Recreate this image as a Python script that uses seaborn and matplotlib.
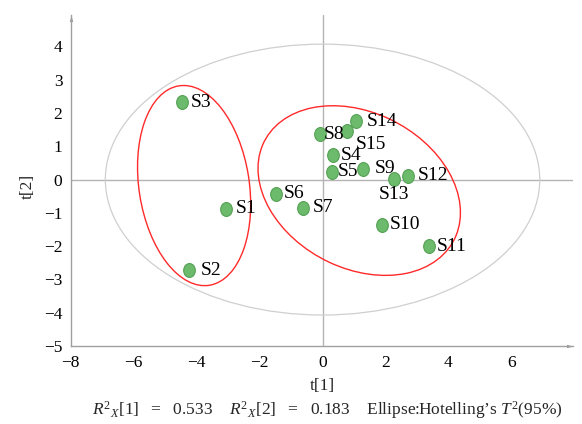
import numpy as np
import pandas as pd
import matplotlib
matplotlib.use("Agg")
import matplotlib.pyplot as plt
import seaborn as sns
from matplotlib.patches import Ellipse
from matplotlib.path import Path
from matplotlib.ticker import MultipleLocator

# PCA score values (t[1], t[2]) per sample
samples = ["S1", "S2", "S3", "S4", "S5", "S6", "S7", "S8",
           "S9", "S10", "S11", "S12", "S13", "S14", "S15"]
t1 = [-3.07, -4.25, -4.48, 0.32, 0.29, -1.48, -0.63, -0.08,
      1.29, 1.90, 3.37, 2.73, 2.27, 1.06, 0.77]
t2 = [-0.87, -2.72, 2.33, 0.73, 0.23, -0.42, -0.84, 1.36,
      0.33, -1.36, -2.00, 0.11, 0.01, 1.75, 1.45]

# explained variance of the two components
r2x = [0.533, 0.183]

df = pd.DataFrame({"sample": samples, "t1": t1, "t2": t2})

sns.set_style("white")
plt.rcParams["font.family"] = ["Liberation Serif", "DejaVu Serif"]
plt.rcParams["mathtext.fontset"] = "custom"
plt.rcParams["mathtext.rm"] = "Liberation Serif"
plt.rcParams["mathtext.it"] = "Liberation Serif:italic"
plt.rcParams["axes.unicode_minus"] = True

fig = plt.figure(figsize=(5.82, 4.24), dpi=100)
ax = fig.add_axes([0.1215, 0.184, 0.8627, 0.781])

# Hotelling T2 ellipse and the two group ellipses
ax.add_patch(Ellipse((0, 0), 13.8, 8.14, fill=False,
                     edgecolor="#cfcfcf", lw=0.9, zorder=1))
ax.add_patch(Ellipse((-4.08, -0.18), 3.5, 6.07, angle=9.5, fill=False,
                     edgecolor="#ff2a2a", lw=1.0, zorder=1))
ax.add_patch(Ellipse((1.165, -0.33), 6.72, 4.71, angle=-24.0, fill=False,
                     edgecolor="#ff2a2a", lw=1.0, zorder=1))

# reference cross at the origin
ax.axhline(0, color="#b4b4b4", lw=1.0, zorder=0.5)
ax.axvline(0, color="#b4b4b4", lw=1.0, zorder=0.5)

# slightly tall elliptical marker
circ = Path.unit_circle()
oval = Path(circ.vertices * np.array([0.84, 1.0]), circ.codes)

sns.scatterplot(data=df, x="t1", y="t2", marker=oval, s=100,
                color="#6cbb6c", edgecolor="#55a055", linewidth=0.8,
                ax=ax, zorder=3, legend=False)

# label placement (offset in points, horizontal alignment)
label_offsets = {
    "S1": (7.2, 0, "left"), "S2": (8.3, 0, "left"), "S3": (6.5, 0, "left"),
    "S4": (5.8, 0, "left"), "S5": (4.3, 0, "left"), "S6": (5.8, 0, "left"),
    "S7": (7.2, 0, "left"), "S8": (2.5, 0, "left"), "S9": (8.0, 0, "left"),
    "S10": (5.0, 0, "left"), "S11": (5.8, 0, "left"), "S12": (6.5, 0, "left"),
    "S13": (0, -11, "center"), "S14": (8.0, 0, "left"), "S15": (6.2, -9.5, "left"),
}
for name, x, y in zip(samples, t1, t2):
    dx, dy, ha = label_offsets[name]
    ax.annotate(name, (x, y), xytext=(dx, dy), textcoords="offset points",
                ha=ha, va="center", fontsize=14, color="black", zorder=4)

ax.set_xlim(-8, 7.95)
ax.set_ylim(-5, 4.95)
ax.xaxis.set_major_locator(MultipleLocator(2))
ax.xaxis.set_minor_locator(MultipleLocator(1))
ax.yaxis.set_major_locator(MultipleLocator(1))
ax.yaxis.set_minor_locator(MultipleLocator(0.5))
ax.set_xticks(np.arange(-8, 7, 2))

for side in ("top", "right"):
    ax.spines[side].set_visible(False)
for side in ("left", "bottom"):
    ax.spines[side].set_color("#a0a0a0")
    ax.spines[side].set_linewidth(1.0)

ax.tick_params(axis="both", which="major", direction="out", length=4,
               width=0.8, color="#a0a0a0", labelsize=12.5, labelcolor="black")
ax.tick_params(axis="both", which="minor", direction="out", length=3,
               width=0.8, color="#a0a0a0")
ax.tick_params(axis="x", which="major", pad=2.5)
ax.tick_params(axis="y", which="major", pad=2.0)

# arrow heads at the ends of the axes
arrow = Path([(-1, -0.26), (0, 0), (-1, 0.26), (-1, -0.26)],
             [Path.MOVETO, Path.LINETO, Path.LINETO, Path.CLOSEPOLY])
ax.plot(1, 0, marker=arrow, ms=9.5, color="#999999", mec="none",
        transform=ax.transAxes, clip_on=False)
arrow_up = Path([(-0.26, -1), (0, 0), (0.26, -1), (-0.26, -1)],
                [Path.MOVETO, Path.LINETO, Path.LINETO, Path.CLOSEPOLY])
ax.plot(0, 1, marker=arrow_up, ms=9.5, color="#999999", mec="none",
        transform=ax.transAxes, clip_on=False)

ax.set_xlabel("t[1]", fontsize=12.5)
ax.xaxis.set_label_coords(0.5016, -0.121)
ax.xaxis.label.set_va("center")
ax.set_ylabel("t[2]", fontsize=12.5)
ax.yaxis.set_label_coords(-0.085, 0.483)
ax.yaxis.label.set_va("center")

caption = (rf"$R^{{2}}{{}}_{{X}}$[1]$\enspace\;=\enspace\;${r2x[0]:.3f}    "
           rf"$R^{{2}}{{}}_{{X}}$[2]$\enspace\;=\enspace\;${r2x[1]:.3f}    "
           r"Ellipse:Hotelling’s $T^{2}$(95%)")
fig.text(327 / 582, 1 - 410 / 424, caption, ha="center", va="center",
         fontsize=12.5)

fig.savefig("out.png", dpi=100)
